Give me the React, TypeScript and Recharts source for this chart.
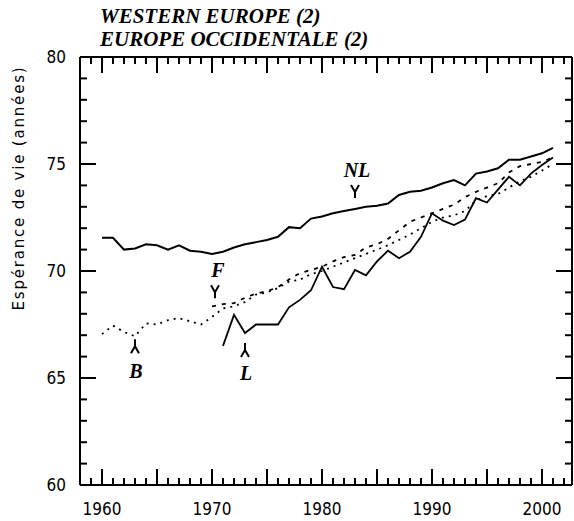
import { LineChart, Line, XAxis, YAxis, ReferenceDot } from 'recharts'

const years = [
  1960, 1961, 1962, 1963, 1964, 1965, 1966, 1967, 1968, 1969,
  1970, 1971, 1972, 1973, 1974, 1975, 1976, 1977, 1978, 1979,
  1980, 1981, 1982, 1983, 1984, 1985, 1986, 1987, 1988, 1989,
  1990, 1991, 1992, 1993, 1994, 1995, 1996, 1997, 1998, 1999,
  2000, 2001,
]

// Pays-Bas
const nl = [
  71.55, 71.55, 71.0, 71.05, 71.25, 71.2, 71.0, 71.2, 70.95, 70.9,
  70.8, 70.9, 71.1, 71.25, 71.35, 71.45, 71.6, 72.05, 72.0, 72.45,
  72.55, 72.7, 72.8, 72.9, 73.0, 73.05, 73.15, 73.55, 73.7, 73.75,
  73.9, 74.1, 74.25, 74.0, 74.55, 74.65, 74.8, 75.2, 75.2, 75.35,
  75.5, 75.75,
]

// France (à partir de 1970)
const fr = [
  null, null, null, null, null, null, null, null, null, null,
  68.35, 68.45, 68.5, 68.75, 68.95, 69.05, 69.25, 69.6, 69.9, 70.05,
  70.2, 70.45, 70.65, 70.75, 71.1, 71.25, 71.5, 71.9, 72.3, 72.5,
  72.7, 72.9, 73.1, 73.45, 73.7, 73.9, 74.1, 74.6, 74.9, 75.0,
  75.1, 75.3,
]

// Belgique
const be = [
  67.05, 67.45, 67.15, 66.95, 67.55, 67.5, 67.7, 67.8, 67.65, 67.5,
  67.85, 68.25, 68.35, 68.55, 68.9, 69.0, 69.2, 69.5, 69.6, 69.85,
  70.0, 70.2, 70.4, 70.6, 70.8, 71.0, 71.2, 71.45, 71.7, 72.0,
  72.3, 72.5, 72.6, 72.8, 73.3, 73.5, 73.6, 73.9, 74.2, 74.4,
  74.7, 75.0,
]

// Luxembourg (à partir de 1971)
const lu = [
  null, null, null, null, null, null, null, null, null, null,
  null, 66.5, 67.95, 67.1, 67.5, 67.5, 67.5, 68.3, 68.65, 69.1,
  70.2, 69.25, 69.15, 70.05, 69.8, 70.45, 70.95, 70.6, 70.9, 71.6,
  72.7, 72.35, 72.15, 72.4, 73.4, 73.2, 73.8, 74.4, 74.0, 74.55,
  74.95, 75.3,
]

const xTicks = [
  1959, 1960, 1961, 1962, 1963, 1964, 1965, 1966, 1967, 1968, 1969,
  1970, 1971, 1972, 1973, 1974, 1975, 1976, 1977, 1978, 1979, 1980, 1981,
  1982, 1983, 1984, 1985, 1986, 1987, 1988, 1989, 1990, 1991, 1992, 1993,
  1994, 1995, 1996, 1997, 1998, 1999, 2000, 2001, 2002,
]
const yTicks = [
  60, 61, 62, 63, 64, 65, 66, 67, 68, 69, 70, 71, 72, 73, 74, 75, 76, 77, 78, 79, 80,
]

const X0 = 1958
const X1 = 2002.73
const rows = years.map((year, i) => ({ year, nl: nl[i], fr: fr[i], be: be[i], lu: lu[i] }))

const tickLen = (v: number) => (v % 5 === 0 ? 16 : 7)

const tickFont = { fontFamily: '"DejaVu Sans Condensed", "DejaVu Sans", sans-serif', fontStretch: 'condensed' }
const labelFont = { fontFamily: '"Liberation Serif", serif', fontWeight: 'bold', fontStyle: 'italic' }

// graduations vers l'intérieur du cadre
function BottomTick(props: any) {
  const x = Number(props.x)
  const y = Number(props.y)
  const v = Number(props.payload.value)
  return (
    <g>
      <path d={`M${x},${y}V${y - tickLen(v)}`} stroke="#000" strokeWidth={2} fill="none" />
      {v % 10 === 0 && (
        <text x={x} y={y + 30} textAnchor="middle" fontSize={17} fill="#000" style={tickFont}>{v}</text>
      )}
    </g>
  )
}

function TopTick(props: any) {
  const x = Number(props.x)
  const y = Number(props.y)
  const v = Number(props.payload.value)
  return <path d={`M${x},${y}V${y + tickLen(v)}`} stroke="#000" strokeWidth={2} fill="none" />
}

function LeftTick(props: any) {
  const x = Number(props.x)
  const y = Number(props.y)
  const v = Number(props.payload.value)
  return (
    <g>
      <path d={`M${x},${y}H${x + tickLen(v)}`} stroke="#000" strokeWidth={2} fill="none" />
      {v % 5 === 0 && (
        <text x={x - 14} y={y + 6} textAnchor="end" fontSize={17} fill="#000" style={tickFont}>{v}</text>
      )}
    </g>
  )
}

function RightTick(props: any) {
  const x = Number(props.x)
  const y = Number(props.y)
  const v = Number(props.payload.value)
  return <path d={`M${x},${y}H${x - tickLen(v)}`} stroke="#000" strokeWidth={2} fill="none" />
}

// étiquette avec flèche vers le bas (au-dessus de la courbe)
function DownLabel({ cx, cy, text, dx = 0, dy }: any) {
  const ay = dy + 8
  return (
    <g>
      <text x={cx + dx} y={cy + dy} textAnchor="middle" fontSize={20} fill="#000" style={labelFont}>{text}</text>
      <path d={`M${cx - 4},${cy + ay} L${cx},${cy + ay + 7} L${cx + 4},${cy + ay} M${cx},${cy + ay + 7} L${cx},${cy + ay + 13}`}
        stroke="#000" strokeWidth={2} fill="none" />
    </g>
  )
}

// étiquette avec flèche vers le haut (sous la courbe)
function UpLabel({ cx, cy, text, dx = 0, dy }: any) {
  const ay = 3
  return (
    <g>
      <path d={`M${cx},${cy + ay} L${cx},${cy + ay + 7} M${cx - 4},${cy + ay + 14} L${cx},${cy + ay + 7} L${cx + 4},${cy + ay + 14}`}
        stroke="#000" strokeWidth={2} fill="none" />
      <text x={cx + dx} y={cy + dy} textAnchor="middle" fontSize={20} fill="#000" style={labelFont}>{text}</text>
    </g>
  )
}

const axisLine = { stroke: '#000', strokeWidth: 2 }

export default function App() {
  return (
    <div style={{ position: 'absolute', left: 0, top: 0, width: 574, height: 521, background: '#fff' }}>
      <svg width={574} height={521} style={{ position: 'absolute', left: 0, top: 0 }}>
        <text x={100} y={23} fontSize={21} fill="#000" style={labelFont}>WESTERN EUROPE (2)</text>
        <text x={100} y={46} fontSize={21} fill="#000" style={labelFont}>EUROPE OCCIDENTALE (2)</text>
        <text transform="translate(24,188) rotate(-90)" textAnchor="middle" fontSize={15} letterSpacing={1.8}
          fill="#000" style={{ fontFamily: '"DejaVu Sans", sans-serif' }}>
          Espérance de vie (années)
        </text>
      </svg>
      <div style={{ position: 'absolute', left: 0, top: 0 }}>
        <LineChart width={574} height={521} data={rows} margin={{ top: 56, right: 1, bottom: 35, left: 79 }}>
          <XAxis dataKey="year" type="number" domain={[X0, X1]} allowDataOverflow ticks={xTicks} interval={0}
            height={1} tickSize={0} tickMargin={0} tickLine={false} tick={BottomTick} axisLine={axisLine} />
          <XAxis xAxisId="top" orientation="top" dataKey="year" type="number" domain={[X0, X1]} allowDataOverflow
            ticks={xTicks} interval={0} height={1} tickSize={0} tickMargin={0} tickLine={false} tick={TopTick}
            axisLine={axisLine} />
          <YAxis type="number" domain={[60, 80]} allowDataOverflow ticks={yTicks} interval={0} width={1} tickSize={0}
            tickMargin={0} tickLine={false} tick={LeftTick} axisLine={axisLine} />
          <YAxis yAxisId="right" orientation="right" type="number" domain={[60, 80]} allowDataOverflow ticks={yTicks}
            interval={0} width={1} tickSize={0} tickMargin={0} tickLine={false} tick={RightTick} axisLine={axisLine} />

          <Line dataKey="nl" stroke="#000" strokeWidth={2} dot={false} isAnimationActive={false} />
          <Line dataKey="lu" stroke="#000" strokeWidth={1.8} dot={false} isAnimationActive={false} />
          <Line dataKey="fr" stroke="#000" strokeWidth={1.8} strokeDasharray="4 6" dot={false} isAnimationActive={false} />
          <Line dataKey="be" stroke="#000" strokeWidth={1.8} strokeDasharray="2 5" dot={false} isAnimationActive={false} />
          <ReferenceDot x={1983} y={nl[23]} r={0}
            shape={(p: any) => <DownLabel cx={p.cx} cy={p.cy} text="NL" dx={2} dy={-32} />} />
          <ReferenceDot x={1970} y={fr[10]} r={0}
            shape={(p: any) => <DownLabel cx={p.cx + 3} cy={p.cy} text="F" dx={3} dy={-29} />} />
          <ReferenceDot x={1963} y={be[3]} r={0}
            shape={(p: any) => <UpLabel cx={p.cx} cy={p.cy} text="B" dx={1} dy={42} />} />
          <ReferenceDot x={1973} y={lu[13]} r={0}
            shape={(p: any) => <UpLabel cx={p.cx} cy={p.cy + 7} text="L" dx={1} dy={40} />} />
        </LineChart>
      </div>
    </div>
  )
}
